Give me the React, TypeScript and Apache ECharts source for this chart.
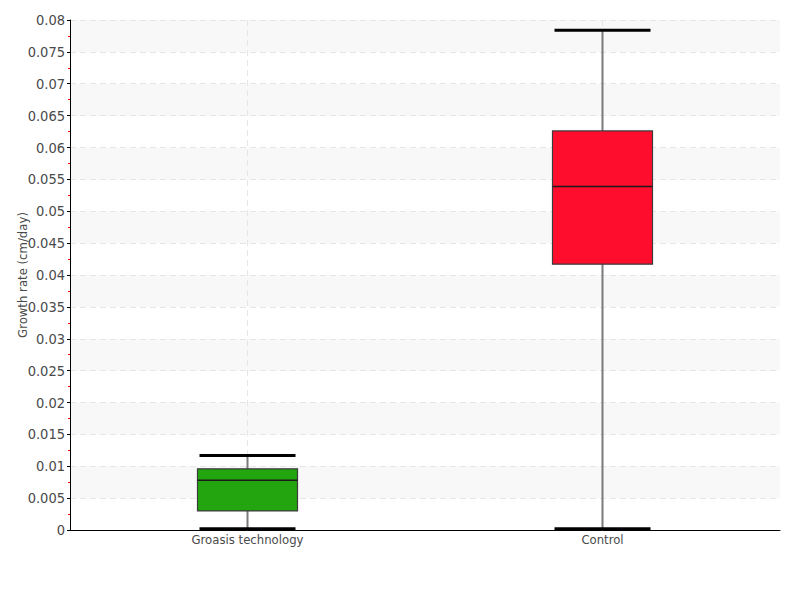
import React, { useEffect, useRef } from "react";
import * as echarts from "echarts";

const categories = ["Groasis technology", "Control"];
const whiskerLow = [0.0002, 0.0002];
const q1 = [0.003, 0.0417];
const median = [0.0078, 0.0539];
const q3 = [0.0096, 0.0626];
const whiskerHigh = [0.0117, 0.0784];
const boxColors = ["#22a50e", "#ff0d2c"];
const yMin = 0;
const yMax = 0.08;
const yInterval = 0.005;

const FONT = "'DejaVu Sans Condensed', 'DejaVu Sans', sans-serif";
const WEIGHT = "normal condensed";

export default function App() {
  const ref = useRef<HTMLDivElement>(null);
  useEffect(() => {
    if (!ref.current) return;
    const chart = echarts.init(ref.current, undefined, { renderer: "svg" });
    const data = categories.map((_, i) => [i, whiskerLow[i], q1[i], median[i], q3[i], whiskerHigh[i]]);
    chart.setOption({
      animation: false,
      grid: { left: 70, right: 20, top: 20, bottom: 70, containLabel: false, outerBoundsMode: "none" },
      xAxis: {
        type: "category",
        data: categories,
        boundaryGap: true,
        axisLine: { lineStyle: { color: "#000", width: 1 } },
        axisTick: { show: false },
        axisLabel: { color: "#4a4a4a", fontFamily: FONT, fontWeight: WEIGHT, fontSize: 13, margin: 3 },
        splitLine: { show: false },
      },
      yAxis: {
        type: "value",
        min: yMin,
        max: yMax,
        interval: yInterval,
        name: "Growth rate (cm/day)",
        nameLocation: "middle",
        nameGap: 41,
        nameMoveOverlap: false,
        nameTextStyle: { color: "#4a4a4a", fontFamily: FONT, fontWeight: WEIGHT, fontSize: 13 },
        axisLine: { show: true, lineStyle: { color: "#000", width: 1 } },
        axisTick: { show: true, length: 3, lineStyle: { color: "#000", width: 1 } },
        minorTick: { show: true, splitNumber: 2, length: 2, lineStyle: { color: "#ff0000", width: 1 } },
        axisLabel: { color: "#4a4a4a", fontFamily: FONT, fontWeight: WEIGHT, fontSize: 14.5, margin: 5 },
        splitLine: { show: true, lineStyle: { color: "#e6e6e6", type: [6, 4], width: 1 } },
        splitArea: { show: true, areaStyle: { color: ["#ffffff", "#f8f8f8"] } },
      },
      series: [
        {
          type: "custom",
          data,
          encode: { x: 0, y: [1, 2, 3, 4, 5] },
          renderItem: (params: any, api: any) => {
            const i = api.value(0);
            const top = api.coord([i, yMax]);
            const bottom = api.coord([i, yMin]);
            const pLow = api.coord([i, api.value(1)]);
            const pQ1 = api.coord([i, api.value(2)]);
            const pMed = api.coord([i, api.value(3)]);
            const pQ3 = api.coord([i, api.value(4)]);
            const pHigh = api.coord([i, api.value(5)]);
            const x = pLow[0];
            const bw = 100;
            const cw = 96;
            return {
              type: "group",
              children: [
                {
                  type: "line",
                  shape: { x1: x, y1: top[1], x2: x, y2: bottom[1] },
                  style: { stroke: "#e6e6e6", lineWidth: 1, lineDash: [6, 4] },
                },
                {
                  type: "line",
                  shape: { x1: x, y1: pHigh[1], x2: x, y2: pLow[1] + 1.5 },
                  style: { stroke: "#7a7a7a", lineWidth: 2 },
                },
                {
                  type: "rect",
                  shape: { x: x - bw / 2, y: pQ3[1], width: bw, height: pQ1[1] - pQ3[1] },
                  style: { fill: boxColors[params.dataIndex], stroke: "#3c3c3c", lineWidth: 1.2 },
                },
                {
                  type: "line",
                  shape: { x1: x - bw / 2, y1: pMed[1], x2: x + bw / 2, y2: pMed[1] },
                  style: { stroke: "#1a1a1a", lineWidth: 1.5 },
                },
                {
                  type: "line",
                  shape: { x1: x - cw / 2, y1: pHigh[1], x2: x + cw / 2, y2: pHigh[1] },
                  style: { stroke: "#000", lineWidth: 3 },
                },
                {
                  type: "line",
                  shape: { x1: x - cw / 2, y1: pLow[1], x2: x + cw / 2, y2: pLow[1] },
                  style: { stroke: "#000", lineWidth: 3 },
                },
              ],
            };
          },
        },
      ],
    });
    return () => chart.dispose();
  }, []);
  return <div ref={ref} style={{ position: "absolute", left: 0, top: 0, width: 800, height: 600 }} />;
}
